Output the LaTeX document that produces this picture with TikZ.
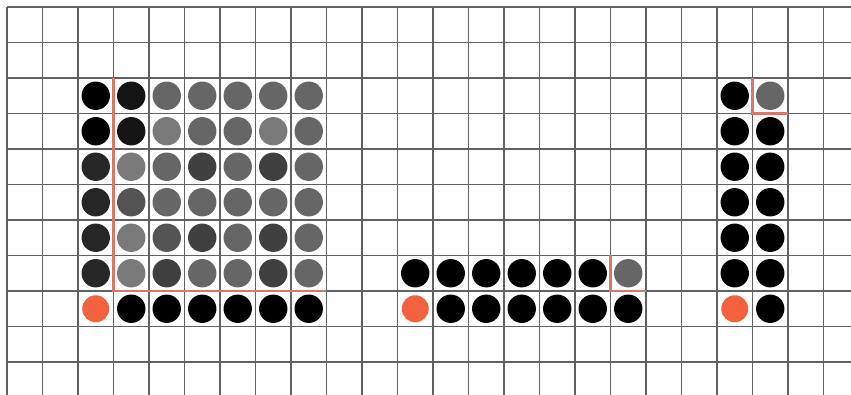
\documentclass[tikz,border=0pt]{standalone}
\usepackage{tikz}
\definecolor{pegorange}{RGB}{242,98,62}
\definecolor{pegred}{RGB}{216,120,106}
\definecolor{gLight}{gray}{0.48}
\definecolor{gMid}{gray}{0.40}
\definecolor{gDim}{gray}{0.33}
\definecolor{gDark}{gray}{0.25}
\definecolor{gNear}{gray}{0.15}
\definecolor{gDeep}{gray}{0.08}

\begin{document}
\begin{tikzpicture}[
    gridline/.style={line width=1.1pt, black!62},
    redmark/.style={line width=2pt, pegred}]
  \useasboundingbox (-0.197,0.197) rectangle (23.775,-10.902);
  \clip (-0.197,0.197) rectangle (23.775,-10.902);
  % squared paper
  \foreach \x in {0,...,23}
    \draw[gridline] (\x,0) -- (\x,-11.5);
  \foreach \y in {0,...,10}
    \draw[gridline] (0,-\y) -- (24.5,-\y);
  % left block, row by row
  \foreach \c [count=\i from 2] in {black,gDeep,gMid,gMid,gMid,gMid,gMid}
    \fill[\c] (\i+0.5,-2.5) circle (0.4);
  \foreach \c [count=\i from 2] in {black,gDeep,gLight,gMid,gMid,gLight,gMid}
    \fill[\c] (\i+0.5,-3.5) circle (0.4);
  \foreach \c [count=\i from 2] in {gNear,gLight,gMid,gDark,gMid,gDark,gMid}
    \fill[\c] (\i+0.5,-4.5) circle (0.4);
  \foreach \c [count=\i from 2] in {gNear,gDim,gMid,gMid,gMid,gMid,gMid}
    \fill[\c] (\i+0.5,-5.5) circle (0.4);
  \foreach \c [count=\i from 2] in {gNear,gLight,gDim,gDark,gMid,gDark,gMid}
    \fill[\c] (\i+0.5,-6.5) circle (0.4);
  \foreach \c [count=\i from 2] in {gNear,gLight,gDark,gMid,gMid,gDark,gMid}
    \fill[\c] (\i+0.5,-7.5) circle (0.4);
  \fill[pegorange] (2.5,-8.5) circle (0.38);
  \foreach \i in {3,...,8}
    \fill[black] (\i+0.5,-8.5) circle (0.4);
  \draw[redmark] (3,-2) -- (3,-8) -- (9,-8);
  % middle block
  \foreach \i in {11,...,16}
    \fill[black] (\i+0.5,-7.5) circle (0.4);
  \fill[gMid] (17.5,-7.5) circle (0.4);
  \fill[pegorange] (11.5,-8.5) circle (0.38);
  \foreach \i in {12,...,17}
    \fill[black] (\i+0.5,-8.5) circle (0.4);
  \draw[redmark] (17,-7) -- (17,-8) -- (18,-8);
  % right block
  \foreach \j in {2,...,7}
    \fill[black] (20.5,-\j-0.5) circle (0.4);
  \fill[pegorange] (20.5,-8.5) circle (0.38);
  \fill[gMid] (21.5,-2.5) circle (0.4);
  \foreach \j in {3,...,8}
    \fill[black] (21.5,-\j-0.5) circle (0.4);
  \draw[redmark] (21,-2) -- (21,-3) -- (22,-3);
\end{tikzpicture}
\end{document}
